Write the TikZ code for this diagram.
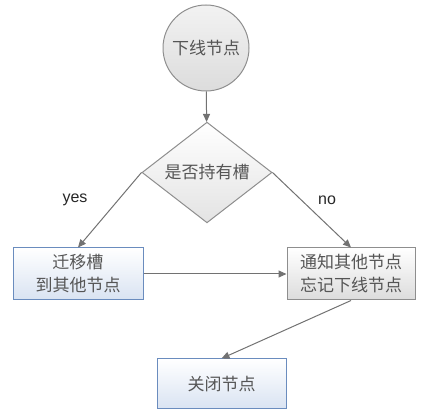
\documentclass[tikz,border=0pt]{standalone}
\usepackage{fontspec}
\setmainfont{Liberation Sans}
\newfontfamily\cjk{Noto Sans CJK SC}
\usetikzlibrary{shapes.geometric,arrows.meta,positioning}
\definecolor{edgegray}{HTML}{727272}
\definecolor{linegray}{HTML}{8E8E8E}
\definecolor{lineblue}{HTML}{6A8CBE}
\definecolor{fillblue}{HTML}{D9E3F2}
\definecolor{fillgray}{HTML}{DCDCDC}
\definecolor{textgray}{HTML}{555555}
\tikzset{base node/.style={draw, line width=1pt, text=textgray,
    font=\cjk\fontsize{17}{23}\selectfont, align=center, inner sep=0pt}}
\tikzset{start node/.style={base node, circle, draw=linegray,
    top color=white!95!black, bottom color=fillgray, minimum size=86pt}}
\tikzset{decision node/.style={base node, diamond, draw=linegray,
    top color=white, bottom color=fillgray!80, minimum width=130pt, minimum height=75pt}}
\tikzset{action node/.style={base node, rectangle, draw=lineblue,
    top color=white, bottom color=fillblue, minimum width=130pt, minimum height=52pt}}
\tikzset{notice node/.style={action node, draw=linegray, bottom color=fillgray}}
\tikzset{regular edge/.style={draw=edgegray, line width=1pt,
    -{Triangle[length=8pt,width=7pt]}, edgegray}}
\tikzset{comment/.style={text=black!85, font=\fontsize{16}{19}\selectfont}}

\begin{document}
\begin{tikzpicture}
      [x=1pt, y=-1pt]
      \useasboundingbox (0,0) rectangle (434,419);

      \node [start node]    (offline)  at (206, 48)    {下线节点};
      \node [decision node] (hasslot)  at (207,172.5)  {是否持有槽};
      \node [action node]   (migrate)  at ( 78,274)    {迁移槽\\到其他节点};
      \node [notice node, minimum width=128pt]
                            (notify)   at (351,274)    {通知其他节点\\忘记下线节点};
      \node [action node, minimum width=129pt, minimum height=50pt]
                            (shutdown) at (221.5,384)  {关闭节点};

      \node [comment] (yes) at ( 75,200) {yes};
      \node [comment] (no)  at (327,200) {no};

      \draw [regular edge] (offline)        -- (hasslot);
      \draw [regular edge] (hasslot.west)   -- (migrate.north);
      \draw [regular edge] (hasslot.east)   -- (notify.north);
      \draw [regular edge] (migrate.east)   -- (notify.west);
      \draw [regular edge] (notify.south)   -- (shutdown.north);
\end{tikzpicture}
\end{document}
